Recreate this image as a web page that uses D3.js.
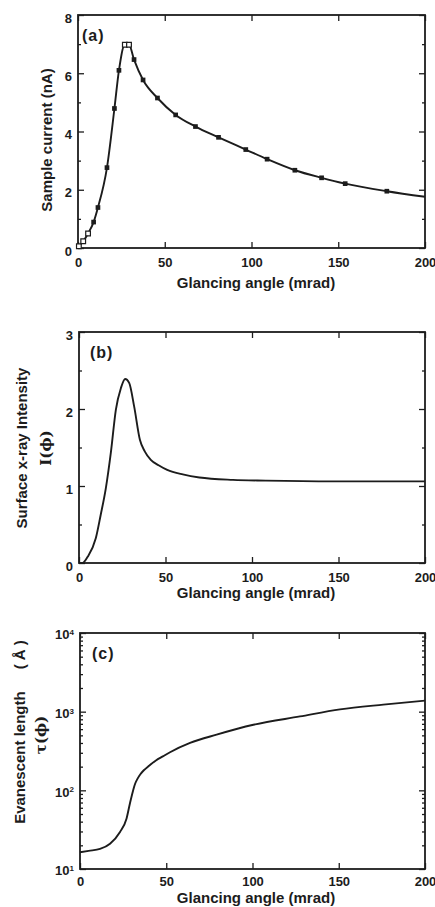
<!DOCTYPE html>
<html>
<head>
<meta charset="utf-8">
<script src="https://cdn.jsdelivr.net/npm/d3@7"></script>
<style>
  body { margin: 0; background: #fff; }
  svg { display: block; font-family: "Liberation Sans", Arial, sans-serif; font-weight: bold; }
</style>
</head>
<body>
<svg id="chart" width="435" height="907"></svg>
<script>
// (a) measured sample current, filled points and open points
const aAngle = [9, 11.5, 16.7, 21, 23.6, 32.3, 37.5, 45.8, 56.3, 67.7, 81, 96.7, 109, 125, 140.4, 154, 178];
const aCurrent = [0.89, 1.39, 2.76, 4.79, 6.1, 6.47, 5.77, 5.15, 4.57, 4.17, 3.8, 3.38, 3.05, 2.67, 2.41, 2.21, 1.95];
const aOpenAngle = [0.5, 3, 5.8, 27, 29.4];
const aOpenCurrent = [0.06, 0.23, 0.5, 6.98, 6.98];
// fitted curve runs on past the last point
const aTailAngle = [200];
const aTailCurrent = [1.76];

// (b) surface x-ray intensity
const bAngle = [0, 2, 5, 9.7, 12.5, 15.5, 18.5, 21.3, 24.2, 26.7, 29, 31.9, 35.2, 38, 41.5, 46, 51, 60, 69.6, 89, 108, 147, 200];
const bIntensity = [0, 0, 0.08, 0.32, 0.62, 0.97, 1.45, 1.99, 2.27, 2.39, 2.34, 2.03, 1.6, 1.45, 1.34, 1.27, 1.21, 1.15, 1.11, 1.08, 1.07, 1.06, 1.06];

// (c) evanescent length
const cAngle = [0, 5, 11.6, 17.4, 23.2, 27, 29, 30.9, 32, 33.3, 35, 37, 40, 44, 48, 52.2, 63.8, 79.2, 100.5, 127.5, 150.7, 175.8, 200];
const cLength = [16.3, 17, 18, 21, 29.6, 44, 69, 102, 122, 140, 160, 180, 205, 240, 270, 305, 400, 510, 681, 870, 1070, 1230, 1380];

const xTicks = [0, 50, 100, 150, 200];
const aTicks = [0, 2, 4, 6, 8];
const bTicks = [0, 1, 2, 3];
const cTicks = [10, 100, 1000, 10000];

const ink = "#1c1c1c";
const svg = d3.select("#chart");
const zip = (xs, ys) => xs.map((x, i) => [x, ys[i]]);

function panel(box, yScale, yMajor, yMinor, yLabel) {
    const x = d3.scaleLinear().domain([0, 200]).range([box.left, box.right]);
    const y = yScale.range([box.bottom, box.top]);
    const g = svg.append("g");

    g.append("g").attr("transform", `translate(0,${box.bottom})`)
        .call(d3.axisBottom(x).tickValues(xTicks).tickSize(-6).tickSizeOuter(0).tickPadding(box.pad));
    g.append("g").attr("transform", `translate(0,${box.top})`)
        .call(d3.axisTop(x).tickValues(xTicks).tickSize(-6).tickSizeOuter(0).tickFormat(""));

    const left = g.append("g").attr("transform", `translate(${box.left},0)`)
        .call(d3.axisLeft(y).tickValues(yMajor).tickSize(-6).tickSizeOuter(0).tickPadding(6).tickFormat(yLabel));
    g.append("g").attr("transform", `translate(${box.right},0)`)
        .call(d3.axisRight(y).tickValues(yMajor).tickSize(-6).tickSizeOuter(0).tickFormat(""));
    g.append("g").attr("transform", `translate(${box.left},0)`)
        .call(d3.axisLeft(y).tickValues(yMinor).tickSize(-3).tickSizeOuter(0).tickFormat(""));
    g.append("g").attr("transform", `translate(${box.right},0)`)
        .call(d3.axisRight(y).tickValues(yMinor).tickSize(-3).tickSizeOuter(0).tickFormat(""));

    g.selectAll(".domain").remove();
    g.selectAll(".tick line").attr("stroke", ink).attr("stroke-width", 1.3);
    g.selectAll(".tick text").attr("fill", ink).style("font-size", "13px")
        .style("font-family", '"Liberation Sans", Arial, sans-serif').style("font-weight", "bold");
    left.selectAll(".tick text").attr("dy", "0.55em");

    g.append("rect")
        .attr("x", box.left).attr("y", box.top)
        .attr("width", box.right - box.left).attr("height", box.bottom - box.top)
        .attr("fill", "none").attr("stroke", ink).attr("stroke-width", 1.8);

    g.append("text")
        .attr("x", 256).attr("y", box.titleY)
        .attr("text-anchor", "middle").attr("fill", ink).style("font-size", "15px")
        .text("Glancing angle (mrad)");

    return { g, x, y, left };
}

function curve(p, pts) {
    p.g.append("path")
        .datum(pts)
        .attr("fill", "none").attr("stroke", ink).attr("stroke-width", 1.9)
        .attr("stroke-linejoin", "round")
        .attr("d", d3.line().x(d => p.x(d[0])).y(d => p.y(d[1])).curve(d3.curveMonotoneX));
}

function tag(p, x, y, s) {
    p.g.append("text").attr("x", x).attr("y", y).attr("fill", ink)
        .style("font-size", "16px").style("letter-spacing", "1px").text(s);
}

function yTitle(lines, cy) {
    lines.forEach(([txt, x, family]) => {
        svg.append("text")
            .attr("transform", `translate(${x},${cy}) rotate(-90)`)
            .attr("text-anchor", "middle").attr("dy", "0.35em")
            .attr("fill", ink).style("font-size", "15px")
            .style("font-family", family || null)
            .text(txt);
    });
}

// ---- (a)
const pa = panel({ left: 78, right: 425, top: 15, bottom: 248, titleY: 288, pad: 9.5 },
    d3.scaleLinear().domain([0, 8]), aTicks, [1, 3, 5, 7], d3.format("d"));
const aAll = zip(aAngle, aCurrent).concat(zip(aOpenAngle, aOpenCurrent), zip(aTailAngle, aTailCurrent))
    .sort((m, n) => m[0] - n[0]);
curve(pa, aAll);
pa.g.selectAll(".pt").data(zip(aAngle, aCurrent)).join("path")
    .attr("transform", d => `translate(${pa.x(d[0])},${pa.y(d[1])})`)
    .attr("d", d3.symbol(d3.symbolSquare, 22)).attr("fill", ink);
pa.g.selectAll(".open").data(zip(aOpenAngle, aOpenCurrent)).join("path")
    .attr("transform", d => `translate(${pa.x(d[0])},${pa.y(d[1])})`)
    .attr("d", d3.symbol(d3.symbolSquare, 22)).attr("fill", "#fff").attr("stroke", ink).attr("stroke-width", 1.2);
tag(pa, 82, 41, "(a)");
yTitle([["Sample current (nA)", 47]], 140);

// ---- (b)
const pb = panel({ left: 79, right: 425, top: 332, bottom: 563, titleY: 598, pad: 9.5 },
    d3.scaleLinear().domain([0, 3]), bTicks, [0.5, 1.5, 2.5], d3.format("d"));
curve(pb, zip(bAngle, bIntensity));
tag(pb, 90, 358, "(b)");
yTitle([["Surface x-ray Intensity", 22], ["I(\u03D5)", 46, '"DejaVu Serif", serif']], 448);

// ---- (c)
const cMinor = [];
[10, 100, 1000].forEach(d => { for (let k = 2; k <= 9; k++) cMinor.push(d * k); });
const pc = panel({ left: 80, right: 425, top: 633, bottom: 869, titleY: 903, pad: 7.5 },
    d3.scaleLog().domain([10, 10000]), cTicks, cMinor, () => "");
pc.left.selectAll(".tick text").each(function (d) {
    const t = d3.select(this).attr("dy", "0.45em");
    t.append("tspan").text("10");
    t.append("tspan").attr("dy", "-0.55em").style("font-size", "8px").text(Math.round(Math.log10(d)));
});
curve(pc, zip(cAngle, cLength));
tag(pc, 92, 659, "(c)");
svg.append("text")
    .attr("transform", "translate(20,732) rotate(-90)")
    .attr("text-anchor", "middle").attr("dy", "0.35em")
    .attr("fill", ink).style("font-size", "15px")
    .call(t => {
        t.append("tspan").text("Evanescent length");
        t.append("tspan").attr("dx", 22).text("( \u00C5 )");
    });
svg.append("text")
    .attr("transform", "translate(41,735) rotate(-90)")
    .attr("text-anchor", "middle").attr("dy", "0.35em")
    .attr("fill", ink).style("font-size", "15px")
    .style("font-family", '"DejaVu Serif", serif')
    .text("\u03C4(\u03D5)");
</script>
</body>
</html>
